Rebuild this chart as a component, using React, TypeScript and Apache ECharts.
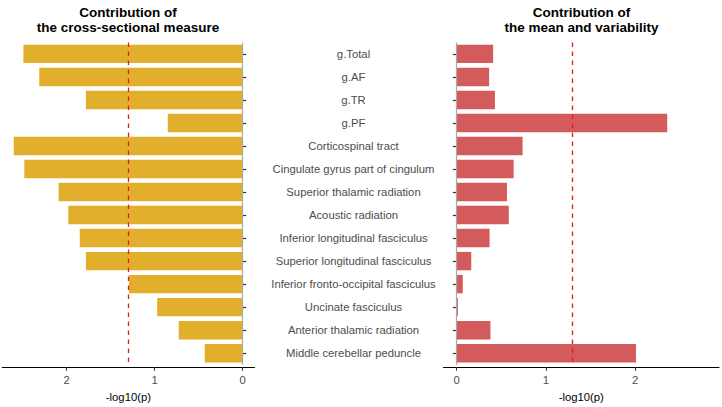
import React, { useEffect, useRef } from "react";
import * as echarts from "echarts";

const categories = [
  "g.Total",
  "g.AF",
  "g.TR",
  "g.PF",
  "Corticospinal tract",
  "Cingulate gyrus part of cingulum",
  "Superior thalamic radiation",
  "Acoustic radiation",
  "Inferior longitudinal fasciculus",
  "Superior longitudinal fasciculus",
  "Inferior fronto-occipital fasciculus",
  "Uncinate fasciculus",
  "Anterior thalamic radiation",
  "Middle cerebellar peduncle",
];
const crossSectional = [2.49, 2.31, 1.78, 0.85, 2.6, 2.48, 2.09, 1.98, 1.85, 1.78, 1.29, 0.97, 0.725, 0.43];
const meanVariability = [0.41, 0.365, 0.43, 2.36, 0.74, 0.64, 0.565, 0.585, 0.37, 0.165, 0.07, 0.015, 0.38, 2.01];
const xTicks = [0, 1, 2];
const threshold = 1.301;
const leftTitle = "Contribution of\nthe cross-sectional measure";
const rightTitle = "Contribution of\nthe mean and variability";
const axisTitle = "-log10(p)";

const FONT = "Liberation Sans, Arial, sans-serif";

export default function App() {
  const ref = useRef<HTMLDivElement>(null);
  useEffect(() => {
    if (!ref.current) return;
    const chart = echarts.init(ref.current, undefined, { renderer: "svg" });
    const xAxisCommon = (gridIndex: number, inverse: boolean, min: number, max: number) => ({
      type: "value",
      gridIndex,
      inverse,
      min,
      max,
      offset: 2.3,
      splitLine: { show: false },
      axisLine: { show: true, onZero: false, lineStyle: { color: "#000", width: 1.1 } },
      axisTick: { show: true, length: 3.7, customValues: xTicks, lineStyle: { color: "#333", width: 1.1 } },
      axisLabel: {
        customValues: xTicks,
        margin: 7,
        fontSize: 11.3,
        color: "#4d4d4d",
        fontFamily: FONT,
        formatter: (v: number) => String(Math.round(v)),
      },
      name: axisTitle,
      nameLocation: "middle",
      nameGap: 24,
      nameTextStyle: { fontSize: 11.3, color: "#000", fontFamily: FONT },
    });
    const markLines = {
      silent: true,
      symbol: "none",
      label: { show: false },
      data: [
        { xAxis: 0, lineStyle: { color: "#a8a8a8", width: 1.2, type: "solid" } },
        { xAxis: threshold, lineStyle: { color: "#e41a1c", width: 1.3, type: [4.5, 4.5] } },
      ],
    };
    chart.setOption({
      animation: false,
      backgroundColor: "#fff",
      grid: [
        { left: 2.3, width: 252.2, top: 42.4, height: 324.5 },
        { left: 443.5, width: 275.5, top: 42.4, height: 324.5 },
      ],
      xAxis: [xAxisCommon(0, true, -0.136, 2.73), xAxisCommon(1, false, -0.146, 2.94)],
      yAxis: [
        {
          type: "category",
          gridIndex: 0,
          data: categories,
          inverse: true,
          position: "right",
          axisLine: { show: false },
          axisTick: { show: true, alignWithLabel: true, length: 3.7, lineStyle: { color: "#333", width: 1.2 } },
          axisLabel: {
            show: true,
            align: "center",
            margin: 99,
            fontSize: 11.3,
            color: "#4d4d4d",
            fontFamily: FONT,
          },
          splitLine: { show: false },
        },
        {
          type: "category",
          gridIndex: 1,
          data: categories,
          inverse: true,
          position: "left",
          axisLine: { show: false },
          axisTick: { show: true, alignWithLabel: true, length: 3.7, lineStyle: { color: "#333", width: 1.2 } },
          axisLabel: { show: false },
          splitLine: { show: false },
        },
      ],
      series: [
        {
          type: "bar",
          xAxisIndex: 0,
          yAxisIndex: 0,
          data: crossSectional,
          barWidth: "80%",
          itemStyle: { color: "#E2AF2D" },
          markLine: markLines,
        },
        {
          type: "bar",
          xAxisIndex: 1,
          yAxisIndex: 1,
          data: meanVariability,
          barWidth: "80%",
          itemStyle: { color: "#D45B5C" },
          markLine: markLines,
        },
      ],
      graphic: [
        {
          type: "text",
          x: 128,
          y: 4.5,
          style: {
            text: leftTitle,
            align: "center",
            verticalAlign: "top",
            font: `bold 13.5px ${FONT}`,
            lineHeight: 15,
            fill: "#000",
          },
        },
        {
          type: "text",
          x: 581.5,
          y: 4.5,
          style: {
            text: rightTitle,
            align: "center",
            verticalAlign: "top",
            font: `bold 13.5px ${FONT}`,
            lineHeight: 15,
            fill: "#000",
          },
        },
      ],
    });
    return () => chart.dispose();
  }, []);
  return <div ref={ref} style={{ position: "fixed", left: 0, top: 0, width: 722, height: 407 }} />;
}
